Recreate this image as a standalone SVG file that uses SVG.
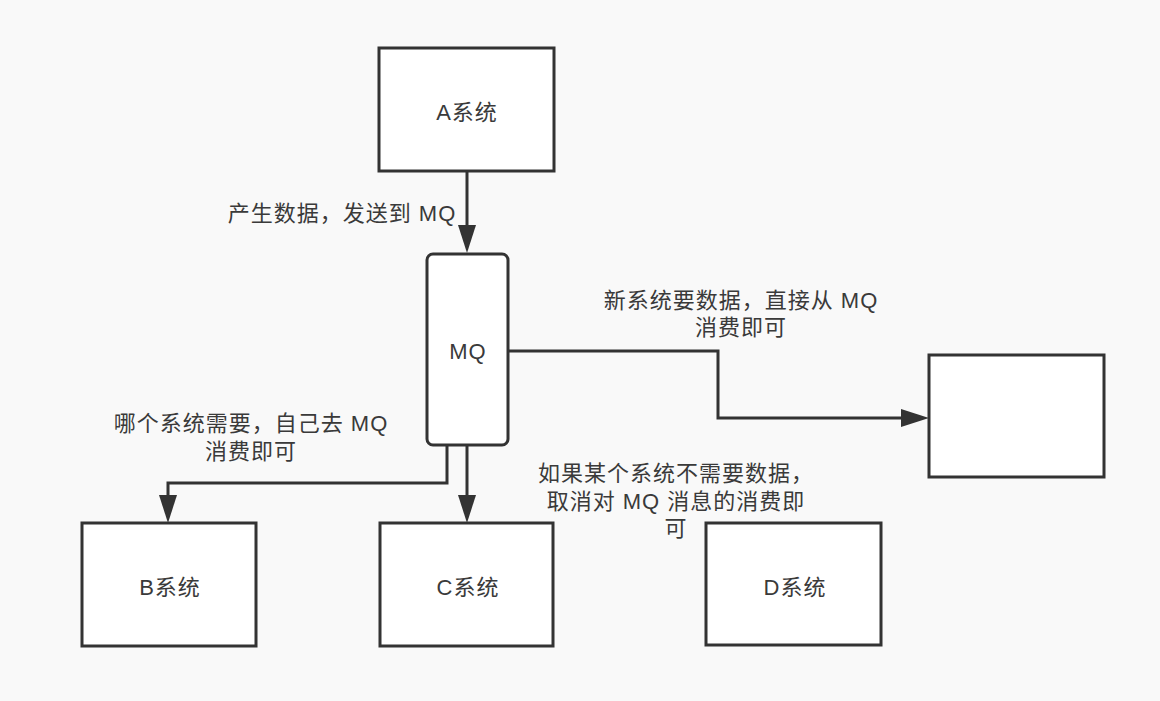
<svg xmlns="http://www.w3.org/2000/svg" width="1160" height="701" viewBox="0 0 1160 701">
<style>
.box{fill:#fff;stroke:#333;stroke-width:3}
.t{font-family:"Liberation Sans","Noto Sans CJK SC",sans-serif;font-size:22px;letter-spacing:1px;fill:#3a3a3a;text-anchor:middle;dominant-baseline:central}
.c{fill:none;stroke:#333;stroke-width:3}
</style>
<defs>
<marker id="ah" viewBox="0 0 28 18" refX="18" refY="9" markerWidth="28" markerHeight="18" markerUnits="userSpaceOnUse" orient="auto">
<path d="M0,0 L28,9 L0,18 Z" fill="#333"/>
</marker>
</defs>
<rect width="1160" height="701" fill="#f9f9f9"/>
<g id="connectors">
<path class="c" d="M467,171 L467,243" marker-end="url(#ah)"/>
<path class="c" d="M508,351 L718,351 L718,418 L919,418" marker-end="url(#ah)"/>
<path class="c" d="M447,446 L447,483 L168,483 L168,513" marker-end="url(#ah)"/>
<path class="c" d="M467,446 L467,513" marker-end="url(#ah)"/>
</g>
<g id="A">
<rect class="box" x="379" y="48" width="175" height="123"/>
<text class="t" x="467" y="112">A系统</text>
</g>
<g id="MQ">
<rect class="box" x="427" y="254" width="81" height="191" rx="6"/>
<text class="t" x="468" y="351">MQ</text>
</g>
<g id="new">
<rect class="box" x="929" y="355" width="175" height="122"/>
</g>
<g id="B">
<rect class="box" x="82" y="523" width="174" height="123"/>
<text class="t" x="170" y="587">B系统</text>
</g>
<g id="C">
<rect class="box" x="380" y="523" width="173" height="123"/>
<text class="t" x="468" y="587">C系统</text>
</g>
<g id="D">
<rect class="box" x="706" y="523" width="175" height="122"/>
<text class="t" x="795" y="587">D系统</text>
</g>
<g id="labels">
<text class="t" x="342" y="213">产生数据，发送到 MQ</text>
<text class="t" x="741" y="300">新系统要数据，直接从 MQ</text>
<text class="t" x="741" y="327">消费即可</text>
<text class="t" x="251" y="423">哪个系统需要，自己去 MQ</text>
<text class="t" x="251" y="451">消费即可</text>
<text class="t" x="676" y="473">如果某个系统不需要数据，</text>
<text class="t" x="676" y="501">取消对 MQ 消息的消费即</text>
<text class="t" x="676" y="528">可</text>
</g>
</svg>
